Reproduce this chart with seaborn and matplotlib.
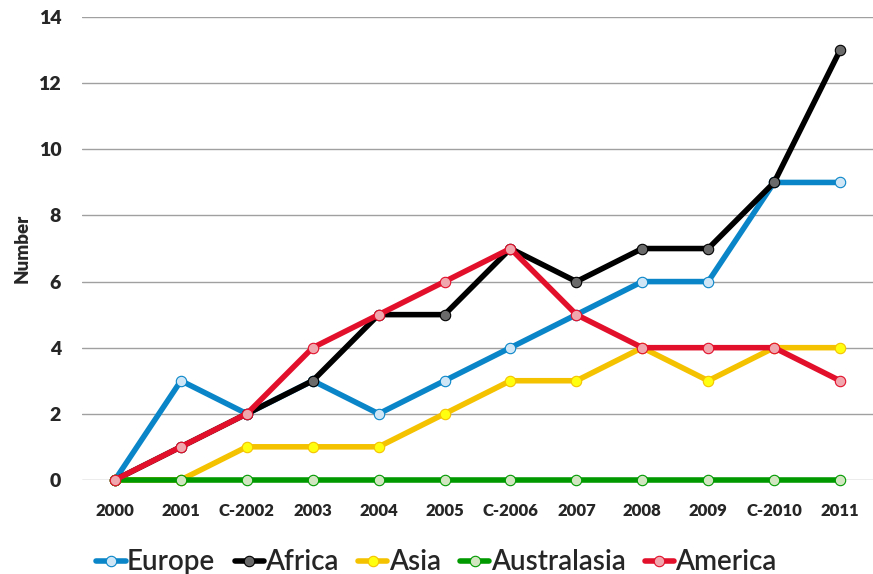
import seaborn as sns
import matplotlib.pyplot as plt
import pandas as pd

years = ["2000", "2001", "C-2002", "2003", "2004", "2005", "C-2006",
         "2007", "2008", "2009", "C-2010", "2011"]
europe = [0, 3, 2, 3, 2, 3, 4, 5, 6, 6, 9, 9]
africa = [0, 1, 2, 3, 5, 5, 7, 6, 7, 7, 9, 13]
asia = [0, 0, 1, 1, 1, 2, 3, 3, 4, 3, 4, 4]
australasia = [0, 0, 0, 0, 0, 0, 0, 0, 0, 0, 0, 0]
america = [0, 1, 2, 4, 5, 6, 7, 5, 4, 4, 4, 3]

series = {"Europe": europe, "Africa": africa, "Asia": asia,
          "Australasia": australasia, "America": america}
line_col = {"Europe": "#0A86C8", "Africa": "#000000", "Asia": "#F5C200",
            "Australasia": "#009A00", "America": "#E3102C"}
face_col = {"Europe": "#CFE6F7", "Africa": "#6A6A6A", "Asia": "#FFFF10",
            "Australasia": "#D2E6C2", "America": "#F0A8AE"}

sns.set_theme(style="white")
plt.rcParams["font.family"] = ["Lato", "DejaVu Sans"]

fig = plt.figure(figsize=(8.73, 5.74), dpi=100)
ax = fig.add_axes([0.094, 0.164, 0.906, 0.806])

for name, vals in series.items():
    df = pd.DataFrame({"year": years, "value": vals})
    sns.lineplot(data=df, x="year", y="value", sort=False, ax=ax,
                 color=line_col[name], linewidth=4, marker="o",
                 markersize=7.5, markerfacecolor=face_col[name],
                 markeredgecolor=line_col[name], markeredgewidth=0.8,
                 label=name, clip_on=False, zorder=3)

ax.set_ylim(0, 14)
ax.set_yticks(range(0, 15, 2))
ax.set_xlim(-0.5, len(years) - 0.5)
ax.yaxis.grid(True, color="#A0A0A0", linewidth=1)
ax.set_axisbelow(True)
for s in ax.spines.values():
    s.set_visible(False)
ax.tick_params(axis="y", length=0, pad=15, labelsize=14)
ax.tick_params(axis="x", length=0, pad=17, labelsize=12)
for lab in ax.get_xticklabels() + ax.get_yticklabels():
    lab.set_fontweight("heavy")
ax.set_xlabel("")
ax.set_ylabel("Number", fontsize=13.5, fontweight="heavy", labelpad=6)

ax.get_legend().remove()
h, l = ax.get_legend_handles_labels()
leg = fig.legend(h, l, loc="upper center", bbox_to_anchor=(0.5, 0.043), ncol=5,
                 frameon=False, fontsize=20, handlelength=1.05,
                 handletextpad=0.05, columnspacing=0.7, borderaxespad=0,
                 borderpad=0)
for t in leg.get_texts():
    t.set_fontweight("semibold")

fig.savefig("out.png", dpi=100)
